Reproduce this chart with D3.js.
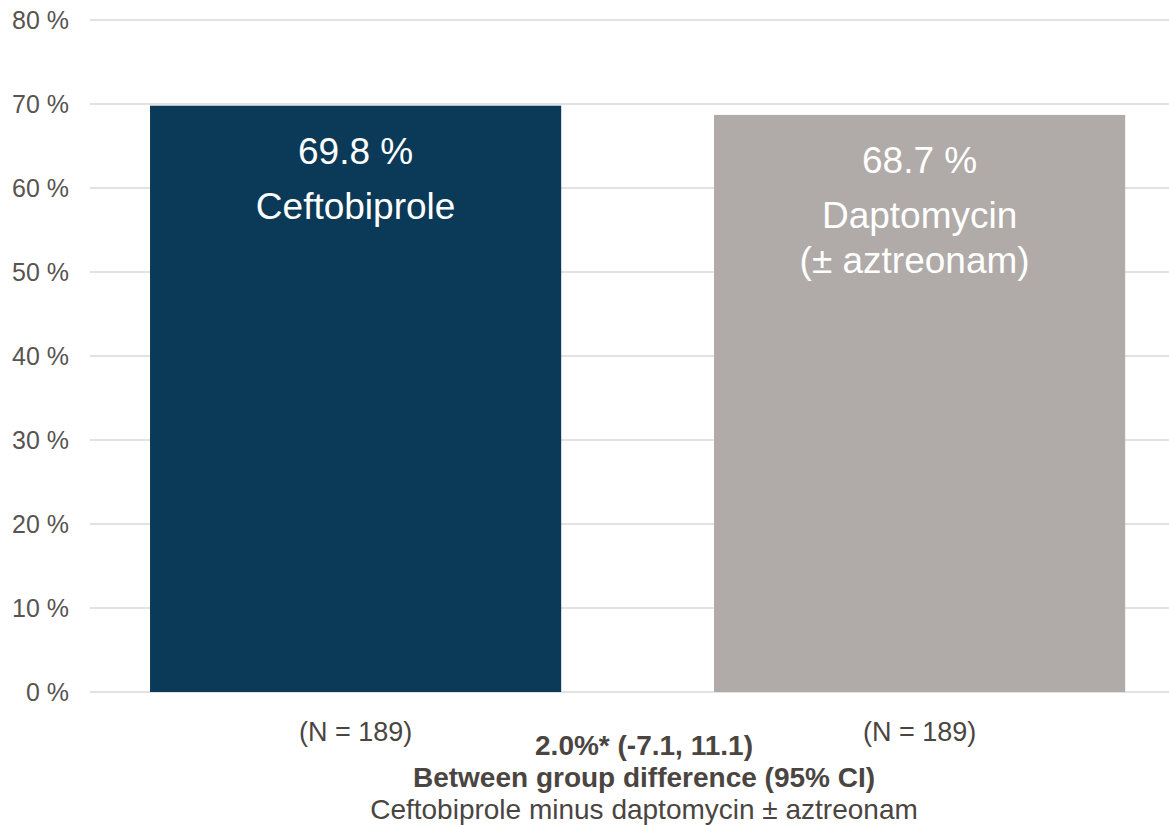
<!DOCTYPE html>
<html>
<head>
<meta charset="utf-8">
<script src="https://cdn.jsdelivr.net/npm/d3@7"></script>
<style>
  body { margin:0; background:#fff; }
  text { font-family: "Liberation Sans", Arial, sans-serif; }
</style>
</head>
<body>
<div id="chart"></div>
<script>
// data
var groups = ["Ceftobiprole", "Daptomycin"];
var values = [69.8, 68.7];
var barLabels = [["Ceftobiprole"], ["Daptomycin", "(\u00b1 aztreonam)"]];
var nLabels = ["(N = 189)", "(N = 189)"];
var colors = ["#0b3a58", "#b0aba8"];
var yTicks = [0, 10, 20, 30, 40, 50, 60, 70, 80];
var footLines = ["2.0%* (-7.1, 11.1)", "Between group difference (95% CI)", "Ceftobiprole minus daptomycin \u00b1 aztreonam"];

var W = 1169, H = 825;
var svg = d3.select("#chart").append("svg")
    .attr("width", W).attr("height", H);

// scales
var y = d3.scaleLinear().domain([0, 80]).range([692, 20]);
var x = d3.scaleBand().domain(groups).range([73.6, 1201.6])
    .paddingInner(0.271).paddingOuter(0.1355);

// gridlines
svg.append("g").selectAll("line")
    .data(yTicks).enter().append("line")
    .attr("x1", 90).attr("x2", W)
    .attr("y1", function(d){ return y(d); })
    .attr("y2", function(d){ return y(d); })
    .attr("stroke", "#d9d9d9").attr("stroke-width", 1.5);

// y axis labels
var yAxis = d3.axisLeft(y).tickValues(yTicks)
    .tickFormat(function(d){ return d + " %"; })
    .tickSize(0).tickPadding(0);
var ag = svg.append("g").attr("transform", "translate(69,0)").call(yAxis);
ag.select(".domain").remove();
ag.selectAll("text")
    .attr("font-size", 25).attr("fill", "#595451")
    .style("font-family", "'Liberation Sans', Arial, sans-serif");

// bars
svg.selectAll("rect.bar")
    .data(groups).enter().append("rect")
    .attr("class", "bar")
    .attr("x", function(d){ return x(d); })
    .attr("width", x.bandwidth())
    .attr("y", function(d, i){ return y(values[i]); })
    .attr("height", function(d, i){ return y(0) - y(values[i]); })
    .attr("fill", function(d, i){ return colors[i]; });

// value + name labels in bars
groups.forEach(function(g, i) {
    var cx = x(g) + x.bandwidth() / 2;
    var top = y(values[i]);
    svg.append("text")
        .attr("x", cx).attr("y", top + 58)
        .attr("text-anchor", "middle")
        .attr("font-size", 37).attr("fill", "#fff")
        .text(values[i].toFixed(1) + " %");
    barLabels[i].forEach(function(t, j) {
        svg.append("text")
            .attr("x", cx - 5 * j).attr("y", top + 113 + j * 45)
            .attr("text-anchor", "middle")
            .attr("font-size", 37).attr("fill", "#fff")
            .text(t);
    });
    svg.append("text")
        .attr("x", cx).attr("y", 741)
        .attr("text-anchor", "middle")
        .attr("font-size", 27).attr("fill", "#4a4541")
        .text(nLabels[i]);
});

// footer text
var footY = [755, 787, 819];
footLines.forEach(function(t, i) {
    svg.append("text")
        .attr("x", 644).attr("y", footY[i])
        .attr("text-anchor", "middle")
        .attr("font-size", 28)
        .attr("font-weight", i < 2 ? "bold" : "normal")
        .attr("fill", "#4a4541")
        .text(t);
});
</script>
</body>
</html>
